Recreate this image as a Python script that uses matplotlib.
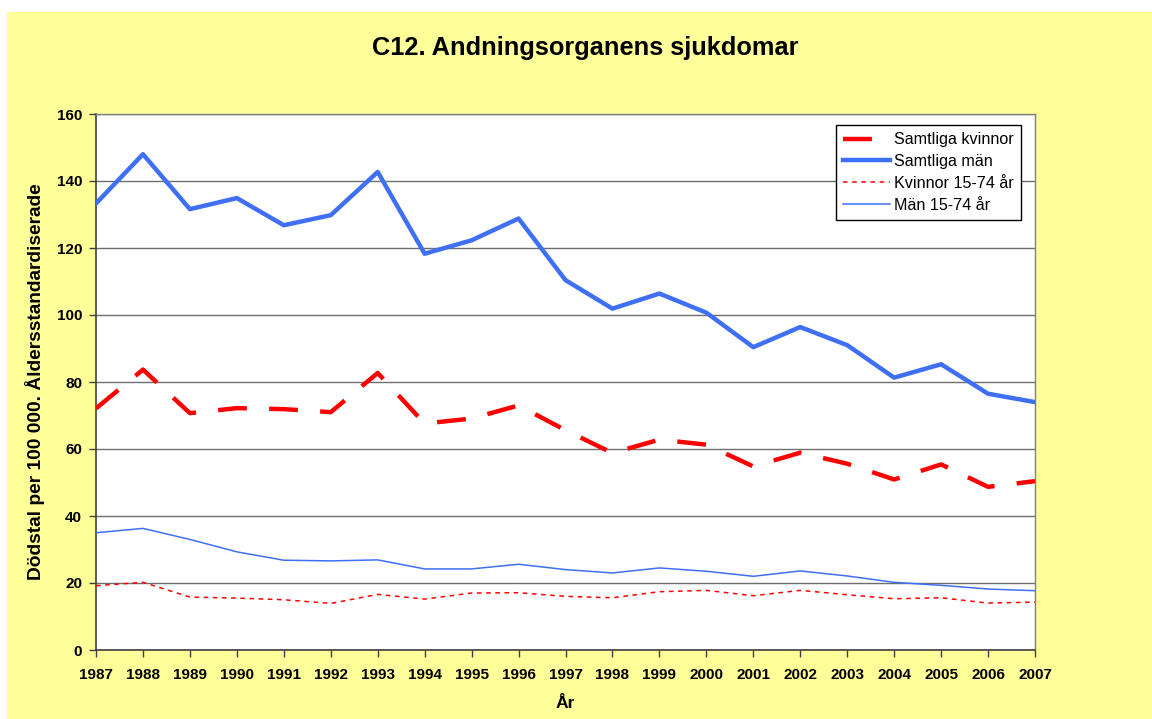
import matplotlib
matplotlib.use("Agg")
import matplotlib.pyplot as plt
from matplotlib.patches import Rectangle

plt.rcParams["font.family"] = ["Liberation Sans", "DejaVu Sans"]

# Data
years = list(range(1987, 2008))
samtliga_kvinnor = [72.1, 83.7, 70.7, 72.2, 71.9, 71.0, 82.7, 67.6, 69.1, 73.0,
                    65.6, 58.8, 62.8, 61.3, 54.8, 58.9, 55.6, 50.9, 55.4, 48.7, 50.4]
samtliga_man = [133.3, 148.0, 131.6, 134.9, 126.8, 129.8, 142.7, 118.3, 122.3, 128.8,
                110.4, 101.9, 106.4, 100.7, 90.4, 96.4, 91.0, 81.3, 85.3, 76.5, 74.0]
kvinnor_15_74 = [19.2, 20.2, 15.8, 15.5, 15.0, 13.9, 16.6, 15.2, 17.0, 17.1,
                 16.0, 15.6, 17.4, 17.8, 16.2, 17.8, 16.5, 15.3, 15.6, 14.0, 14.3]
man_15_74 = [35.0, 36.3, 33.0, 29.3, 26.8, 26.6, 26.9, 24.2, 24.2, 25.6,
             24.0, 23.0, 24.5, 23.5, 22.0, 23.6, 22.1, 20.2, 19.3, 18.2, 17.7]
yticks = [0, 20, 40, 60, 80, 100, 120, 140, 160]

YELLOW = "#FFFF99"
BLUE = "#3F6FF5"
RED = "#FF0000"

fig = plt.figure(figsize=(11.52, 7.19), dpi=100)
fig.patch.set_facecolor("white")
fig.add_artist(Rectangle((7 / 1152, 0), 1, 1 - 12 / 719, transform=fig.transFigure,
                         facecolor=YELLOW, edgecolor="none", zorder=-10))

ax = fig.add_axes([96 / 1152, 1 - 650 / 719, (1035 - 96) / 1152, (650 - 114) / 719])
ax.set_facecolor("white")

ax.plot(years, samtliga_kvinnor, color=RED, lw=3.2, linestyle=(0, (6.5, 5.0)),
        label="Samtliga kvinnor", zorder=3)
ax.plot(years, samtliga_man, color=BLUE, lw=3.2, label="Samtliga män", zorder=3)
ax.plot(years, kvinnor_15_74, color=RED, lw=1.1, linestyle=(0, (3, 3)),
        label="Kvinnor 15-74 år", zorder=3)
ax.plot(years, man_15_74, color=BLUE, lw=1.1, label="Män 15-74 år", zorder=3)

ax.set_xlim(years[0], years[-1])
ax.set_ylim(0, 160)
ax.set_yticks(yticks)
ax.set_xticks(years)
ax.grid(axis="y", color="#6e6e6e", lw=1.0, zorder=1)
ax.set_axisbelow(True)

for lab in ax.get_xticklabels() + ax.get_yticklabels():
    lab.set_fontweight("bold")
    lab.set_fontsize(11)
ax.tick_params(axis="both", direction="out", length=5, width=1, color="#404040", pad=8)
ax.tick_params(axis="y", pad=5)

for side in ["left", "bottom"]:
    ax.spines[side].set_color("#404040")
    ax.spines[side].set_linewidth(1.2)
for side in ["right", "top"]:
    ax.spines[side].set_color("#808080")
    ax.spines[side].set_linewidth(1.0)

ax.set_xlabel("År", fontsize=12.5, fontweight="bold", labelpad=10)
ax.set_ylabel("Dödstal per 100 000. Åldersstandardiserade", fontsize=13.8,
              fontweight="bold", labelpad=8)

fig.text(585 / 1152, 1 - 48 / 719, "C12. Andningsorganens sjukdomar", fontsize=18.3,
         fontweight="bold", ha="center", va="center")

leg = ax.legend(loc="upper right", bbox_to_anchor=(1021 / 1152, 1 - 125 / 719),
                bbox_transform=fig.transFigure, fontsize=11.6, frameon=True,
                fancybox=False, edgecolor="black", framealpha=1,
                handlelength=2.9, handletextpad=0.25, labelspacing=0.42,
                borderpad=0.45, borderaxespad=0)
leg.get_frame().set_linewidth(1.0)

fig.savefig("out.png", dpi=100)
